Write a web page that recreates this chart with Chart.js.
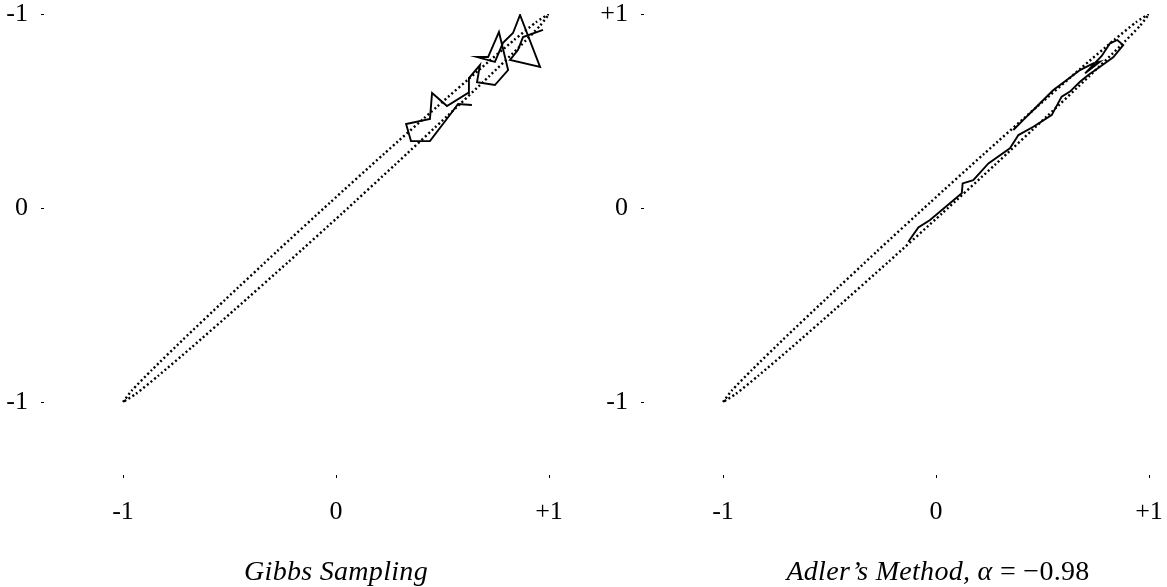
<!DOCTYPE html>
<html lang="en">
<head>
    <meta charset="UTF-8">
    <title>Gibbs Sampling vs Adler's Method</title>
    <script src="https://cdn.jsdelivr.net/npm/chart.js"></script>
    <style>
        body {
            margin: 0;
            background: #fff;
            width: 1167px;
            height: 587px;
            overflow: hidden;
            position: relative;
            font-family: 'Liberation Serif', serif;
        }
        canvas { position: absolute; top: 0; }
        #gibbs { left: 0; }
        #adler { left: 583px; }
        .caption {
            position: absolute;
            top: 555px;
            font-style: italic;
            font-size: 28px;
            line-height: 32px;
            letter-spacing: 0.3px;
            transform: translateX(-50%);
            white-space: nowrap;
        }
    </style>
</head>
<body>
    <canvas id="gibbs" width="583" height="587"></canvas>
    <canvas id="adler" width="584" height="587"></canvas>
    <div class="caption" style="left:336px">Gibbs Sampling</div>
    <div class="caption" style="left:938px">Adler’s Method, α <span style="font-style:normal">= −0.98</span></div>

    <script>
        // axis ticks
        const tickValues = [-1, 0, 1];
        const xTickLabels = ['-1', '0', '+1'];
        const gibbsYLabels = ['-1', '0', '-1'];   // top label reads -1 in the original
        const adlerYLabels = ['-1', '0', '+1'];

        // dotted contour (upper branch then lower branch back)
        const ellipseX = [-1, -0.959, -0.865, -0.72, -0.524, -0.277, -0.028, 0.223, 0.476, 0.68, 0.835, 0.941, 1,
                          0.959, 0.865, 0.72, 0.524, 0.277, 0.028, -0.223, -0.476, -0.68, -0.835, -0.941, -1];
        const ellipseY = [-1, -0.941, -0.835, -0.68, -0.476, -0.223, 0.028, 0.277, 0.524, 0.72, 0.865, 0.959, 1,
                          0.941, 0.835, 0.68, 0.476, 0.223, -0.028, -0.277, -0.524, -0.72, -0.865, -0.959, -1];

        // Gibbs sampling path
        const gibbsX = [0.638, 0.573, 0.545, 0.441, 0.352, 0.329, 0.441, 0.451, 0.521, 0.620, 0.624, 0.676, 0.662, 0.746,
                        0.808, 0.765, 0.714, 0.662, 0.746, 0.784, 0.831, 0.864, 0.958, 0.817, 0.854, 0.878, 0.972];
        const gibbsY = [0.531, 0.536, 0.495, 0.345, 0.345, 0.433, 0.459, 0.593, 0.526, 0.593, 0.670, 0.737, 0.649, 0.634,
                        0.711, 0.907, 0.778, 0.778, 0.753, 0.851, 0.902, 0.995, 0.727, 0.763, 0.814, 0.881, 0.918];

        // Adler's method path
        const adlerX = [-0.130, -0.083, -0.028, 0.121, 0.125, 0.175, 0.246, 0.347, 0.387, 0.457, 0.543, 0.590, 0.629, 0.676,
                        0.715, 0.770, 0.832, 0.879, 0.851, 0.817, 0.778, 0.700, 0.770, 0.738, 0.676, 0.614, 0.551, 0.504,
                        0.457, 0.410, 0.363];
        const adlerY = [-0.174, -0.100, -0.062, 0.076, 0.127, 0.144, 0.230, 0.308, 0.376, 0.419, 0.479, 0.574, 0.600, 0.651,
                        0.686, 0.728, 0.777, 0.840, 0.866, 0.849, 0.784, 0.694, 0.754, 0.746, 0.711, 0.660, 0.608, 0.557,
                        0.505, 0.454, 0.402];

        const toPoints = (xs, ys) => xs.map((x, i) => ({ x: x, y: ys[i] }));
        const tickFont = { family: 'Liberation Serif', size: 26 };

        function makeChart(id, pathX, pathY, yLabels, yWidth, padRight) {
            return new Chart(document.getElementById(id), {
                type: 'scatter',
                data: {
                    datasets: [{
                        data: toPoints(ellipseX, ellipseY),
                        showLine: true,
                        borderColor: '#000',
                        borderWidth: 2.4,
                        borderDash: [2, 2.6],
                        tension: 0.2,
                        pointRadius: 0
                    }, {
                        data: toPoints(pathX, pathY),
                        showLine: true,
                        borderColor: '#000',
                        borderWidth: 1.9,
                        tension: 0,
                        pointRadius: 0
                    }]
                },
                options: {
                    responsive: false,
                    animation: false,
                    events: [],
                    layout: { padding: { top: 14, right: padRight, left: 0, bottom: 0 } },
                    plugins: { legend: { display: false }, tooltip: { enabled: false } },
                    scales: {
                        x: {
                            type: 'linear',
                            min: -1.371,
                            max: 1,
                            afterBuildTicks: (s) => { s.ticks = tickValues.map(v => ({ value: v })); },
                            afterFit: (s) => { s.height = 112; s.paddingLeft = 0; s.paddingRight = 0; },
                            border: { display: false },
                            grid: { drawOnChartArea: false, tickLength: 3, color: '#000', lineWidth: 1 },
                            ticks: {
                                color: '#000',
                                font: tickFont,
                                padding: 19,
                                maxRotation: 0,
                                callback: (v) => xTickLabels[tickValues.indexOf(v)]
                            }
                        },
                        y: {
                            type: 'linear',
                            min: -1.376,
                            max: 1,
                            afterBuildTicks: (s) => { s.ticks = tickValues.map(v => ({ value: v })); },
                            afterFit: (s) => { s.width = yWidth; s.paddingTop = 0; s.paddingBottom = 0; },
                            border: { display: false },
                            grid: { drawOnChartArea: false, tickLength: 3, color: '#000', lineWidth: 1 },
                            ticks: {
                                color: '#000',
                                font: tickFont,
                                padding: 13,
                                callback: (v) => yLabels[tickValues.indexOf(v)]
                            }
                        }
                    }
                }
            });
        }

        makeChart('gibbs', gibbsX, gibbsY, gibbsYLabels, 44, 34);
        makeChart('adler', adlerX, adlerY, adlerYLabels, 61, 18);
    </script>
</body>
</html>
